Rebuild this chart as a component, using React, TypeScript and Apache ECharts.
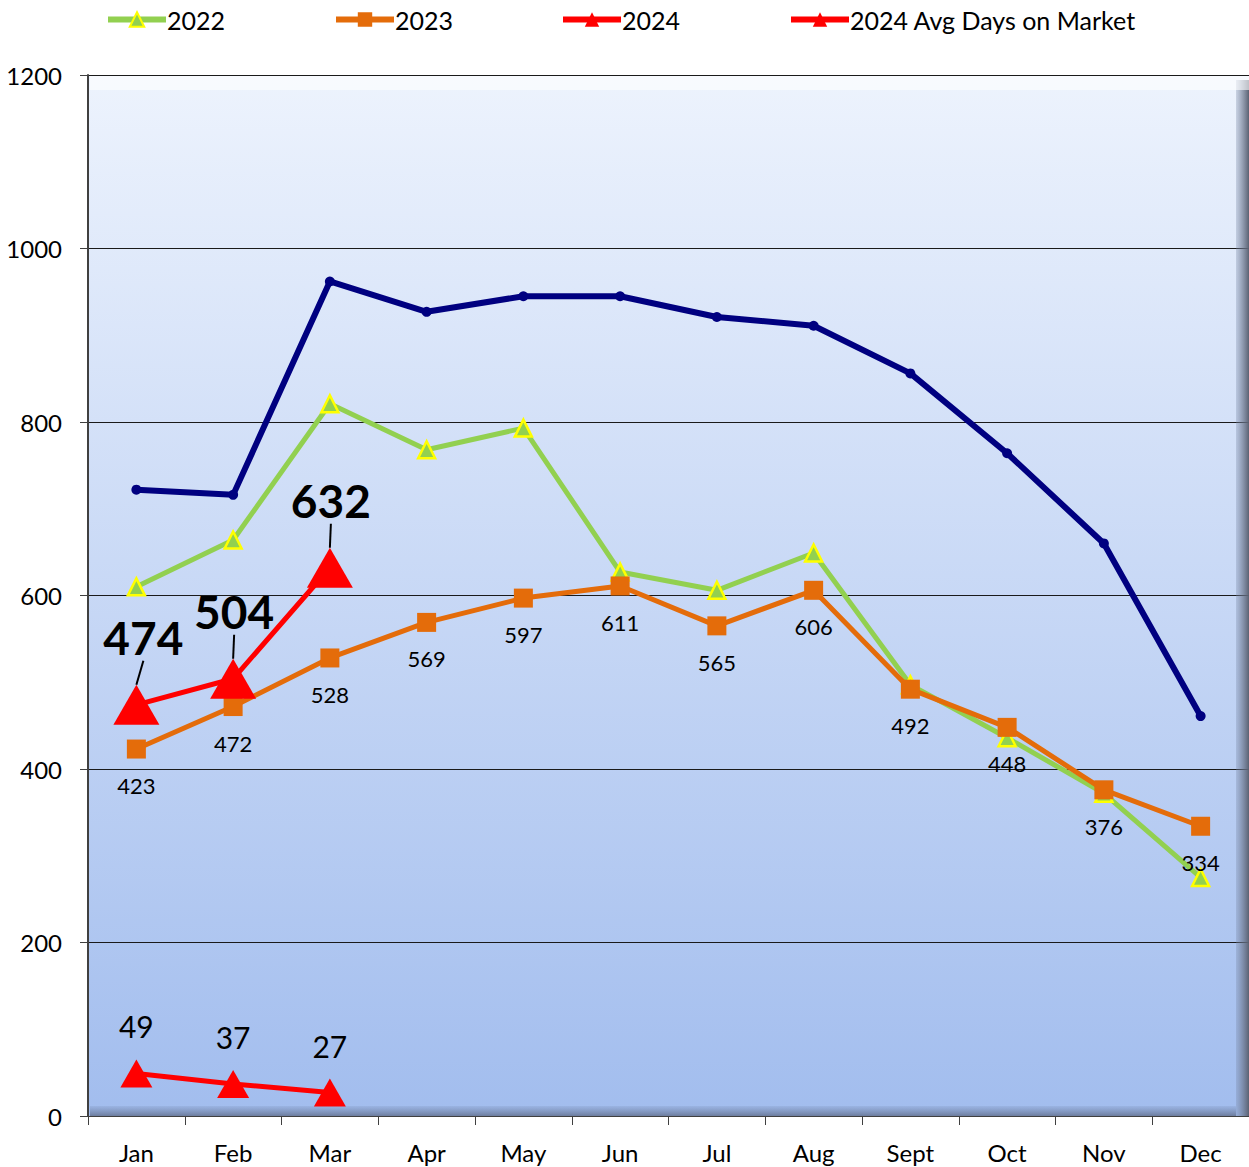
import React, { useEffect, useRef } from "react";
import * as echarts from "echarts";

const months = ["Jan", "Feb", "Mar", "Apr", "May", "Jun", "Jul", "Aug", "Sept", "Oct", "Nov", "Dec"];
const s2021 = [722, 716, 962, 927, 945, 945, 921, 911, 856, 764, 660, 461];
const s2022 = [610, 664, 821, 768, 793, 627, 606, 649, 497, 436, 372, 275];
const s2023 = [423, 472, 528, 569, 597, 611, 565, 606, 492, 448, 376, 334];
const s2024 = [474, 504, 632];
const s2024Days = [49, 37, 27];
const yTicks = [0, 200, 400, 600, 800, 1000, 1200];

const FONT = "Lato, 'Open Sans', sans-serif";

export default function App() {
  const ref = useRef<HTMLDivElement>(null);
  useEffect(() => {
    if (!ref.current) return;
    const chart = echarts.init(ref.current, undefined, { renderer: "svg" });
    const legendBase = {
      top: 2,
      itemWidth: 58,
      itemHeight: 18,
      itemGap: 4,
      lineStyle: { width: 6 },
      textStyle: { fontSize: 25, color: "#000", fontFamily: FONT, padding: [0, 0, 0, -4] },
    };
    chart.setOption({
      animation: false,
      textStyle: { fontFamily: FONT },
      legend: [
        { ...legendBase, left: 100, data: ["2022"] },
        { ...legendBase, left: 328, data: ["2023"] },
        { ...legendBase, left: 555, data: ["2024"] },
        { ...legendBase, left: 783, data: ["2024 Avg Days on Market"] },
      ],
      grid: {
        left: 88,
        top: 75,
        right: 0,
        bottom: 51,
        show: true,
        borderWidth: 0,
        backgroundColor: {
          type: "linear",
          x: 0, y: 0, x2: 0, y2: 1,
          colorStops: [
            { offset: 0, color: "#edf3fd" },
            { offset: 1, color: "#a2bdee" },
          ],
        },
      },
      graphic: [
        {
          type: "rect",
          left: 1236, top: 80,
          shape: { width: 13, height: 1036 },
          style: {
            fill: {
              type: "linear", x: 0, y: 0, x2: 1, y2: 0,
              colorStops: [
                { offset: 0, color: "rgba(120,135,165,0.3)" },
                { offset: 1, color: "#5b6272" },
              ],
            },
          },
          z: 1,
        },
        {
          type: "rect",
          left: 90, top: 1106,
          shape: { width: 1146, height: 10 },
          style: {
            fill: {
              type: "linear", x: 0, y: 0, x2: 0, y2: 1,
              colorStops: [
                { offset: 0, color: "rgba(120,140,180,0.2)" },
                { offset: 1, color: "#6d7d9e" },
              ],
            },
          },
          z: 1,
        },
        {
          type: "rect",
          left: 90, top: 76,
          shape: { width: 1159, height: 14 },
          style: { fill: "rgba(255,255,255,0.6)" },
          z: 1,
        },
      ],
      xAxis: {
        type: "category",
        data: months,
        boundaryGap: true,
        axisLine: { show: true, lineStyle: { color: "#404040", width: 1 } },
        axisTick: { show: true, alignWithLabel: false, length: 9, lineStyle: { color: "#404040" } },
        axisLabel: { fontSize: 24, color: "#000", margin: 24, fontFamily: FONT },
      },
      yAxis: {
        type: "value",
        min: yTicks[0],
        max: yTicks[yTicks.length - 1],
        interval: 200,
        axisLine: { show: true, lineStyle: { color: "#404040", width: 2 } },
        axisTick: { show: true, length: 8, lineStyle: { color: "#404040" } },
        axisLabel: {
          fontSize: 24,
          color: "#000",
          margin: 26,
          fontFamily: FONT,
          formatter: (v: number) => String(v),
        },
        splitLine: { show: true, lineStyle: { color: "#1a1a1a", width: 1 } },
      },
      series: [
        {
          name: "2021",
          type: "line",
          data: s2021,
          z: 3,
          symbol: "circle",
          symbolSize: 10,
          lineStyle: { color: "#000080", width: 6 },
          itemStyle: { color: "#000080" },
        },
        {
          name: "2022",
          type: "line",
          data: s2022,
          z: 4,
          symbol: "triangle",
          symbolSize: 17,
          lineStyle: { color: "#92d050", width: 5 },
          itemStyle: { color: "#92d050", borderColor: "#ffff00", borderWidth: 2.5 },
        },
        {
          name: "2023",
          type: "line",
          data: s2023,
          z: 5,
          symbol: "rect",
          symbolSize: 19,
          lineStyle: { color: "#e46c0a", width: 5 },
          itemStyle: { color: "#e46c0a" },
          label: {
            show: true,
            position: "bottom",
            distance: 16,
            fontSize: 22,
            color: "#000",
            fontFamily: FONT,
          },
        },
        {
          name: "2024",
          type: "line",
          data: s2024,
          z: 6,
          symbol: "triangle",
          symbolSize: [46, 40],
          lineStyle: { color: "#ff0000", width: 5 },
          itemStyle: { color: "#ff0000" },
          label: {
            show: true,
            position: "top",
            distance: 22,
            fontSize: 46,
            fontWeight: "bold",
            color: "#000",
            fontFamily: FONT,
          },
          labelLine: { show: true, length2: 0, lineStyle: { color: "#000", width: 2 } },
          labelLayout: (p: any) => ({ dy: -2, dx: p.dataIndex === 0 ? 7 : 1 }),
        },
        {
          name: "2024 Avg Days on Market",
          type: "line",
          data: s2024Days,
          z: 6,
          symbol: "triangle",
          symbolSize: [32, 28],
          lineStyle: { color: "#ff0000", width: 5 },
          itemStyle: { color: "#ff0000" },
          label: {
            show: true,
            position: "top",
            distance: 18,
            fontSize: 30,
            color: "#000",
            fontFamily: FONT,
          },
        },
      ],
    });
    return () => chart.dispose();
  }, []);
  return <div ref={ref} style={{ width: 1249, height: 1167, position: "absolute", left: 0, top: 0 }} />;
}
